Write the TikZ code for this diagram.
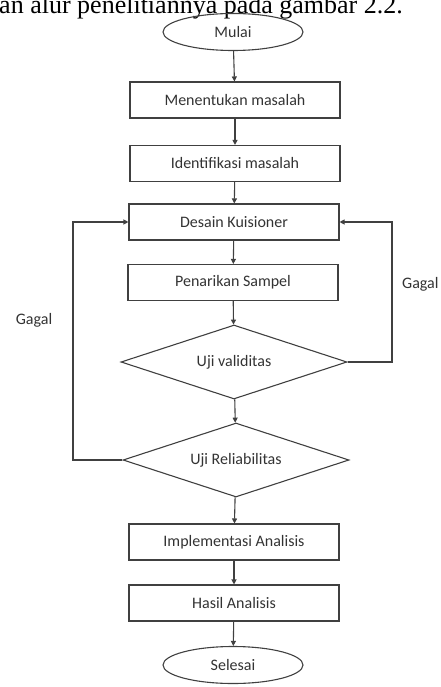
\documentclass[tikz,border=0pt]{standalone}
\usepackage{fontspec}
\setmainfont{Carlito}
\newfontfamily\serifbody{Liberation Serif}
\usetikzlibrary{arrows.meta,shapes.geometric}
\tikzset{
  ln/.style={draw=black!75, line width=1.1pt},
  arr/.style={ln, -{Triangle[length=5pt,width=5pt]}},
  txt/.style={font=\fontsize{16}{18}\selectfont, text=black!80},
  proc/.style={ln, txt, rectangle, minimum width=210pt, minimum height=36pt, inner sep=0pt},
  term/.style={ln, txt, ellipse, minimum width=140pt, minimum height=37pt, inner sep=0pt},
  deci/.style={ln, txt, diamond, aspect=3, minimum width=226pt, minimum height=74pt, inner sep=0pt},
  lbl/.style={txt, inner sep=0pt}
}
\begin{document}
\begin{tikzpicture}[x=1pt,y=-1pt]
\useasboundingbox (0,0) rectangle (440,687);
\clip (0,0) rectangle (440,687);
\node[font=\serifbody\fontsize{26}{28}\selectfont, anchor=base east, inner sep=0pt] (top) at (403,14) {an alur penelitiannya pada gambar 2.2.};
\node[term] (mulai) at (233,32) {Mulai};
\node[proc] (m1) at (235,100) {Menentukan masalah};
\node[proc] (m2) at (235,163.5) {Identifikasi masalah};
\node[proc] (m3) at (234,222) {Desain Kuisioner};
\node[proc] (m4) at (233,282.5) {Penarikan Sampel};
\node[deci] (d1) at (234,362) {Uji validitas};
\node[deci] (d2) at (236,460) {Uji Reliabilitas};
\node[proc] (m5) at (234,542) {Implementasi Analisis};
\node[proc] (m6) at (234,603) {Hasil Analisis};
\node[term] (sel) at (233,665) {Selesai};
\node[lbl] (g1) at (34,320) {Gagal};
\node[lbl, anchor=west] (g2) at (402,284) {Gagal};
\coordinate (r1) at (392,362);
\coordinate (r2) at (392,222);
\coordinate (l1) at (73,460);
\coordinate (l2) at (73,222);
\draw[arr] (mulai) -- (m1);
\draw[arr] (m1) -- (m2);
\draw[arr] (m2) -- (m3);
\draw[arr] (m3) -- (m4);
\draw[arr] (m4) -- (d1);
\draw[arr] (d1) -- (d2);
\draw[arr] (d2) -- (m5);
\draw[arr] (m5) -- (m6);
\draw[arr] (m6) -- (sel);
\draw[arr] (d1.east) -- (r1) -- (r2) -- (m3.east);
\draw[arr] (d2.west) -- (l1) -- (l2) -- (m3.west);
\end{tikzpicture}
\end{document}
